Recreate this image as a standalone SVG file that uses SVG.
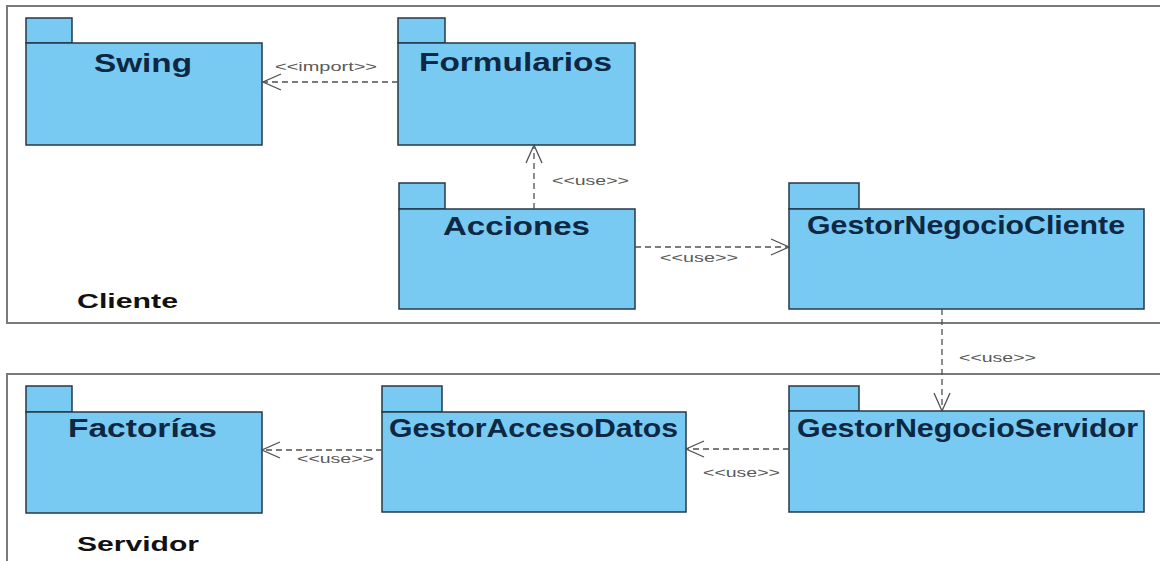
<svg xmlns="http://www.w3.org/2000/svg" width="1160" height="561" viewBox="0 0 1160 561">
<style>
.frame{fill:none;stroke:#7a7a7a;stroke-width:2}
.pkg rect{fill:#79caf2;stroke:#24394a;stroke-width:1.5}
.pname{font-family:"Liberation Sans",Arial,sans-serif;font-weight:bold;font-size:26px;fill:#0e2742}
.flabel{font-family:"Liberation Sans",Arial,sans-serif;font-weight:bold;font-size:21px;fill:#111}
.conn line{stroke:#505050;stroke-width:1.3;stroke-dasharray:6,4;fill:none}
.lbl{font-family:"Liberation Sans",Arial,sans-serif;font-size:12.5px;fill:#5a5a5a}
</style>
<defs>
<marker id="open" viewBox="-20 -10 22 20" refX="0" refY="0" markerWidth="22" markerHeight="20" orient="auto" markerUnits="userSpaceOnUse">
<path d="M-18,-8 L0,0 L-18,8" fill="none" stroke="#505050" stroke-width="1.3"/>
</marker>
</defs>
<rect width="1160" height="561" fill="#fff"/>
<g id="Cliente">
<polyline class="frame" points="1162,6 7,6 7,323 1162,323"/>
<text class="flabel" x="77" y="308" textLength="101" lengthAdjust="spacingAndGlyphs">Cliente</text>
</g>
<g id="Servidor">
<polyline class="frame" points="1162,374 7,374 7,563"/>
<text class="flabel" x="77" y="551" textLength="122" lengthAdjust="spacingAndGlyphs">Servidor</text>
</g>
<g id="Swing" class="pkg">
<rect x="26" y="18" width="46" height="25"/><rect x="26" y="43" width="236" height="102"/>
<text class="pname" x="94" y="72" textLength="98" lengthAdjust="spacingAndGlyphs">Swing</text>
</g>
<g id="Formularios" class="pkg">
<rect x="398" y="18" width="47" height="25"/><rect x="398" y="43" width="237" height="102"/>
<text class="pname" x="419" y="71" textLength="193" lengthAdjust="spacingAndGlyphs">Formularios</text>
</g>
<g id="Acciones" class="pkg">
<rect x="399" y="183" width="46" height="26"/><rect x="399" y="209" width="236" height="100"/>
<text class="pname" x="443" y="235" textLength="147" lengthAdjust="spacingAndGlyphs">Acciones</text>
</g>
<g id="GestorNegocioCliente" class="pkg">
<rect x="789" y="183" width="70" height="26"/><rect x="789" y="209" width="355" height="100"/>
<text class="pname" x="807" y="234" textLength="318" lengthAdjust="spacingAndGlyphs">GestorNegocioCliente</text>
</g>
<g id="Factorias" class="pkg">
<rect x="26" y="386" width="46" height="26"/><rect x="26" y="412" width="236" height="101"/>
<text class="pname" x="68" y="437" textLength="149" lengthAdjust="spacingAndGlyphs">Factorías</text>
</g>
<g id="GestorAccesoDatos" class="pkg">
<rect x="382" y="386" width="60" height="26"/><rect x="382" y="412" width="304" height="100"/>
<text class="pname" x="389" y="437" textLength="289" lengthAdjust="spacingAndGlyphs">GestorAccesoDatos</text>
</g>
<g id="GestorNegocioServidor" class="pkg">
<rect x="789" y="386" width="70" height="25"/><rect x="789" y="411" width="355" height="101"/>
<text class="pname" x="797" y="437" textLength="341" lengthAdjust="spacingAndGlyphs">GestorNegocioServidor</text>
</g>
<g id="connectors" class="conn">
<line x1="398" y1="82" x2="263" y2="82" marker-end="url(#open)"/>
<text class="lbl" x="275" y="71" textLength="102" lengthAdjust="spacingAndGlyphs">&lt;&lt;import&gt;&gt;</text>
<line x1="534" y1="209" x2="534" y2="145" marker-end="url(#open)"/>
<text class="lbl" x="552" y="185" textLength="77" lengthAdjust="spacingAndGlyphs">&lt;&lt;use&gt;&gt;</text>
<line x1="635" y1="247" x2="789" y2="247" marker-end="url(#open)"/>
<text class="lbl" x="660" y="262" textLength="78" lengthAdjust="spacingAndGlyphs">&lt;&lt;use&gt;&gt;</text>
<line x1="942" y1="309" x2="942" y2="411" marker-end="url(#open)"/>
<text class="lbl" x="959" y="362" textLength="77" lengthAdjust="spacingAndGlyphs">&lt;&lt;use&gt;&gt;</text>
<line x1="789" y1="449" x2="686" y2="449" marker-end="url(#open)"/>
<text class="lbl" x="703" y="477" textLength="77" lengthAdjust="spacingAndGlyphs">&lt;&lt;use&gt;&gt;</text>
<line x1="382" y1="450" x2="262" y2="450" marker-end="url(#open)"/>
<text class="lbl" x="297" y="463" textLength="77" lengthAdjust="spacingAndGlyphs">&lt;&lt;use&gt;&gt;</text>
</g>
</svg>
